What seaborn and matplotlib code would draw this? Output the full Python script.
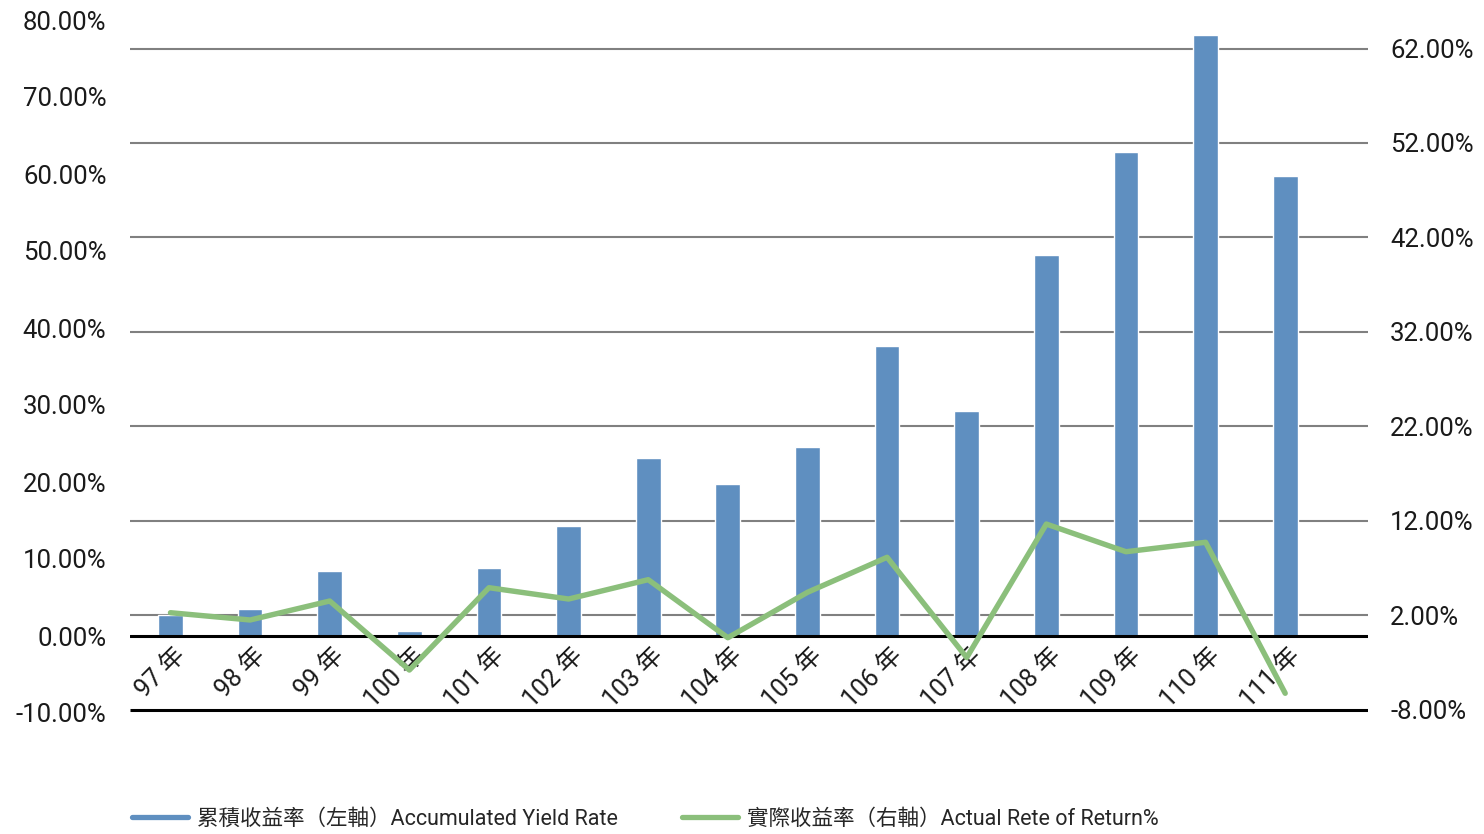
import numpy as np
import pandas as pd
import matplotlib
matplotlib.use("Agg")
import matplotlib.pyplot as plt
import seaborn as sns
from matplotlib.lines import Line2D
from matplotlib.transforms import ScaledTranslation, blended_transform_factory

# Fiscal years (ROC calendar)
years = ["97 年", "98 年", "99 年", "100 年", "101 年", "102 年", "103 年", "104 年",
         "105 年", "106 年", "107 年", "108 年", "109 年", "110 年", "111 年"]

# Accumulated yield rate (%), left axis
cumulative_yield = [2.7, 3.5, 8.4, 0.65, 8.8, 14.3, 23.1, 19.7, 24.5, 37.7,
                    29.2, 49.5, 62.9, 78.0, 59.7]

# Actual rate of return (%), right axis
actual_return = [2.25, 1.48, 3.49, -3.82, 4.90, 3.70, 5.75, -0.40, 4.41, 8.12,
                 -2.5, 11.64, 8.71, 9.71, -6.28]

left_ticks = [-10, 0, 10, 20, 30, 40, 50, 60, 70, 80]
right_ticks = [-8, 2, 12, 22, 32, 42, 52, 62]

legend_labels = ["累積收益率（左軸）Accumulated Yield Rate",
                 "實際收益率（右軸）Actual Rete of Return%"]

BAR_COLOR = "#5f8fc0"
LINE_COLOR = "#8bbf7b"
GRID_COLOR = "#808080"
TEXT_COLOR = "#1a1a1a"

sns.set_theme(style="white")
plt.rcParams["font.family"] = ["Roboto", "Noto Sans CJK TC", "DejaVu Sans"]

df = pd.DataFrame({
    "pos": np.arange(len(years)),
    "year": years,
    "cumulative": cumulative_yield,
    "actual": actual_return,
})

W, H = 1484, 834
fig = plt.figure(figsize=(W / 100, H / 100), dpi=100)
ax = fig.add_axes([130 / W, (H - 713) / H, 1238 / W, 693 / H])
ax2 = ax.twinx()

# Horizontal guide lines follow the right-hand scale but sit beneath the bars
grid_trans = blended_transform_factory(ax.transAxes, ax2.transData)
for v in right_ticks:
    is_base = v == right_ticks[0]
    ax.add_line(Line2D([0, 1], [v, v], transform=grid_trans,
                       color="black" if is_base else GRID_COLOR,
                       lw=2.2 if is_base else 1.5, zorder=0.5,
                       solid_capstyle="butt"))

sns.barplot(data=df, x="pos", y="cumulative", native_scale=True, width=0.31,
            color=BAR_COLOR, saturation=1, errorbar=None, ax=ax, zorder=1)
ax.axhline(0, color="black", lw=2.2, zorder=2)

sns.lineplot(data=df, x="pos", y="actual", sort=False, color=LINE_COLOR,
             lw=3.9, ax=ax2, solid_capstyle="round")

ax.set_xlim(-0.5085, 15.04)
ax.set_ylim(-10, 80)
ax2.set_ylim(-8.37, 65.02)

for a in (ax, ax2):
    a.set_xlabel("")
    a.set_ylabel("")
    for s in a.spines.values():
        s.set_visible(False)
    a.grid(False)

ax.set_yticks(left_ticks, labels=[f"{v:.2f}%" for v in left_ticks])
ax2.set_yticks(right_ticks, labels=[f"{v:.2f}%" for v in right_ticks])
ax.tick_params(axis="y", length=0, pad=17, labelsize=18.5, labelcolor=TEXT_COLOR)
ax2.tick_params(axis="y", length=0, pad=16, labelsize=18.5, labelcolor=TEXT_COLOR)

ax.set_xticks(df["pos"], labels=years)
ax.tick_params(axis="x", length=0, pad=0, labelsize=18, labelcolor=TEXT_COLOR)
shift = ScaledTranslation(0.11, 0.61, fig.dpi_scale_trans)
for lab in ax.get_xticklabels():
    lab.set_rotation(45)
    lab.set_rotation_mode("anchor")
    lab.set_ha("right")
    lab.set_va("center")
    lab.set_transform(lab.get_transform() + shift)

handles = [Line2D([], [], color=BAR_COLOR, lw=3.8),
           Line2D([], [], color=LINE_COLOR, lw=3.8)]
leg = fig.legend(handles, legend_labels, loc="center left",
                 bbox_to_anchor=(132 / W, 1 - 819 / H), ncol=2, frameon=False,
                 prop={"family": ["Roboto", "Noto Sans CJK TC", "DejaVu Sans"],
                       "size": 15.5},
                 handlelength=2.6, handletextpad=0.4, columnspacing=3.0,
                 borderpad=0, borderaxespad=0)
for t in leg.get_texts():
    t.set_color("#262626")

fig.savefig("out.png", dpi=100)
